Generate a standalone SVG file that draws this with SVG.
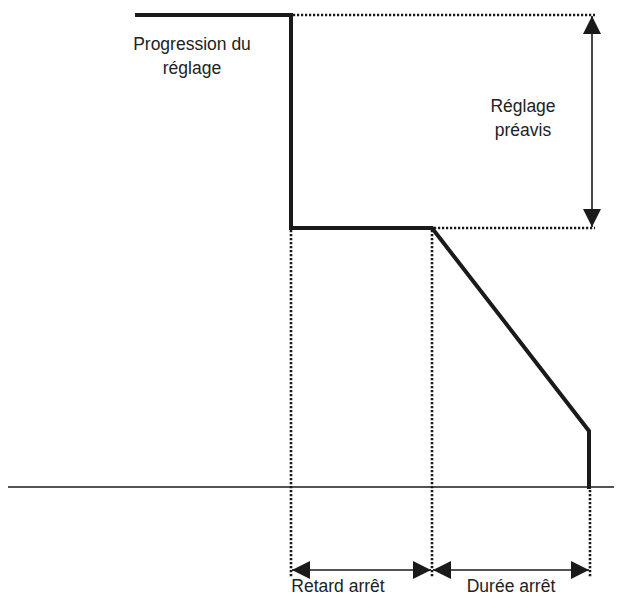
<svg xmlns="http://www.w3.org/2000/svg" width="622" height="596" viewBox="0 0 622 596">
<style>
.thick{fill:none;stroke:#1a1a1a;stroke-width:4;stroke-linejoin:miter;stroke-linecap:butt}
.dot{fill:none;stroke:#1a1a1a;stroke-width:2.6;stroke-dasharray:2.2 1.8}
.thin{fill:none;stroke:#1a1a1a;stroke-width:1.6}
.lbl{font-family:"Liberation Sans",Arial,sans-serif;font-size:17.5px;fill:#222;text-anchor:middle}
</style>
<defs>
<marker id="ah" viewBox="0 0 18 18" refX="18" refY="9" markerWidth="18" markerHeight="18" markerUnits="userSpaceOnUse" orient="auto-start-reverse">
<path d="M0,0 L18,9 L0,18 Z" fill="#1a1a1a"/>
</marker>
</defs>
<g id="axis">
<line class="thin" x1="8" y1="487" x2="614" y2="487"/>
</g>
<g id="connectors">
<line class="dot" x1="293" y1="15" x2="595" y2="15"/>
<line class="dot" x1="434" y1="228" x2="595" y2="228"/>
<line class="dot" x1="291" y1="230" x2="291" y2="578"/>
<line class="dot" x1="432" y1="230" x2="432" y2="578"/>
<line class="dot" x1="590" y1="490" x2="590" y2="578"/>
<line class="thin" x1="592" y1="16" x2="592" y2="227" marker-start="url(#ah)" marker-end="url(#ah)"/>
<line class="thin" x1="292" y1="570" x2="431" y2="570" marker-start="url(#ah)" marker-end="url(#ah)"/>
<line class="thin" x1="433" y1="570" x2="589" y2="570" marker-start="url(#ah)" marker-end="url(#ah)"/>
</g>
<g id="curve">
<polyline class="thick" points="135,15 291,15 291,228 432,228 589,431 589,489"/>
</g>
<g id="label-progression">
<text class="lbl" x="192" y="50">Progression du</text>
<text class="lbl" x="192" y="74">réglage</text>
</g>
<g id="label-preavis">
<text class="lbl" x="523" y="112">Réglage</text>
<text class="lbl" x="523" y="136">préavis</text>
</g>
<g id="label-retard">
<text class="lbl" x="338" y="592">Retard arrêt</text>
</g>
<g id="label-duree">
<text class="lbl" x="511" y="592">Durée arrêt</text>
</g>
</svg>
